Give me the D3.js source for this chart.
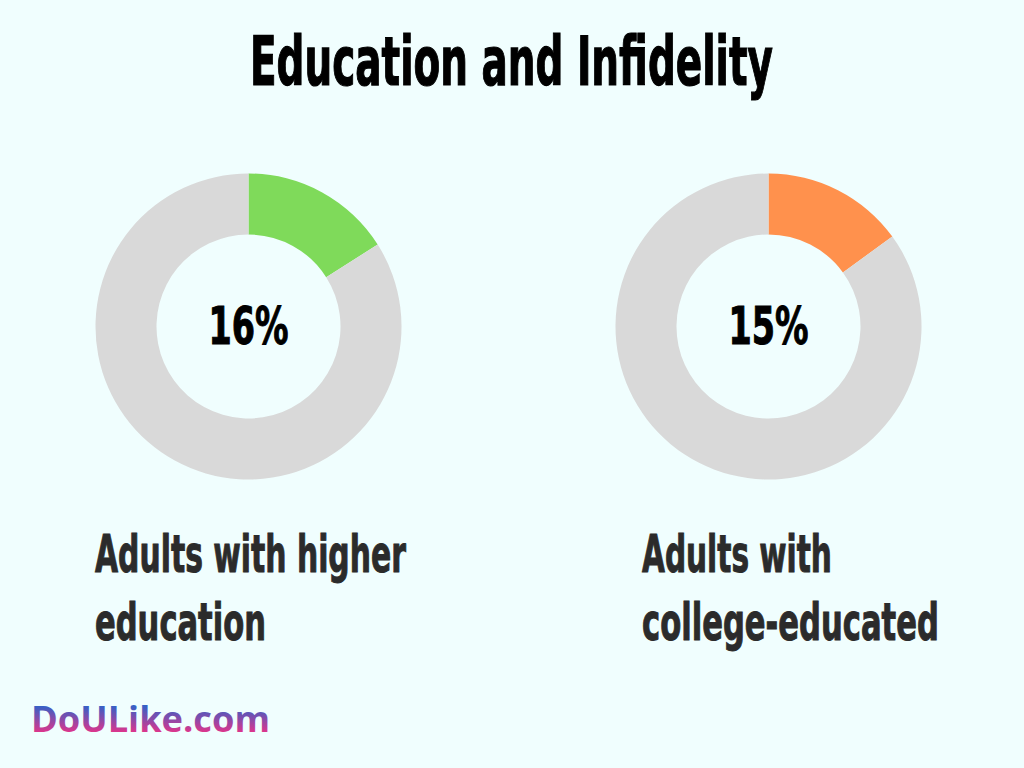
<!DOCTYPE html>
<html>
<head>
<meta charset="utf-8">
<script src="https://cdn.jsdelivr.net/npm/d3@7"></script>
<style>
  html, body { margin: 0; padding: 0; background: #f0fefe; }
  svg { display: block; }
  .heavy { font-family: "DejaVu Sans", sans-serif; font-weight: bold; font-stretch: condensed; }
</style>
</head>
<body>
<div class="chart"></div>
<script>
// chart data
var title = "Education and Infidelity";
var categories = [["Adults with higher", "education"], ["Adults with", "college-educated"]];
var values = [16, 15];
var colors = ["#7fda5a", "#ff914d"];
var restColor = "#d9d9d9";

var width = 1024, height = 768;

const svg = d3.select('.chart').append('svg')
    .attr('width', width).attr('height', height)
    .attr('viewBox', '0 0 ' + width + ' ' + height);

svg.append('rect').attr('width', width).attr('height', height).style('fill', '#f0fefe');

// squeeze a text horizontally so it spans the wanted width (the original face is very narrow)
function fitText(sel, x, y, w, anchor) {
    var natural = sel.node().getComputedTextLength();
    var k = w / natural;
    var x0 = anchor === 'middle' ? x : x;
    sel.attr('x', 0).attr('y', 0)
       .attr('transform', 'translate(' + x0 + ',' + y + ') scale(' + k + ',1)');
}

// title
var t = svg.append('text')
    .attr('class', 'heavy')
    .style('font-size', '68px')
    .style('fill', '#000')
    .style('stroke', '#000').style('stroke-width', 1.2)
    .text(title);
fitText(t, 250, 85, 523);

// donut centers, one per category
var cx = d3.scalePoint().domain(d3.range(values.length)).range([248.5, 768.5]);
var cy = 326.5;
var outerR = 153, innerR = 92;

var pie = d3.pie().sort(null).value(d => d);
var arc = d3.arc().innerRadius(innerR).outerRadius(outerR);

var labelWidths = [[311, 171], [190, 297]];
var labelX = [95, 642];

values.forEach(function (v, i) {
    var g = svg.append('g').attr('transform', 'translate(' + cx(i) + ',' + cy + ')');

    g.selectAll('path')
        .data(pie([v, 100 - v]))
        .join('path')
        .attr('d', arc)
        .style('fill', (d, j) => j === 0 ? colors[i] : restColor);

    var p = g.append('text')
        .attr('class', 'heavy')
        .attr('text-anchor', 'middle')
        .style('font-size', '52px')
        .style('fill', '#000')
        .style('stroke', '#000').style('stroke-width', 1)
        .text(v + '%');
    fitText(p, 0, 17, 80, 'middle');

    categories[i].forEach(function (line, k) {
        var l = svg.append('text')
            .attr('class', 'heavy')
            .style('font-size', '51px')
            .style('fill', '#2b2b2b')
            .style('stroke', '#2b2b2b').style('stroke-width', 1)
            .text(line);
        fitText(l, labelX[i], 572 + k * 68, labelWidths[i][k]);
    });
});

// watermark
var grad = svg.append('defs').append('linearGradient')
    .attr('id', 'wm').attr('gradientUnits', 'userSpaceOnUse')
    .attr('x1', 0).attr('y1', 706).attr('x2', 0).attr('y2', 733);
grad.append('stop').attr('offset', '0%').attr('stop-color', '#3560c6');
grad.append('stop').attr('offset', '100%').attr('stop-color', '#e3348a');

svg.append('text')
    .attr('x', 31).attr('y', 732)
    .attr('textLength', 239).attr('lengthAdjust', 'spacingAndGlyphs')
    .style('font-family', '"Open Sans", sans-serif')
    .style('font-weight', 'bold')
    .style('font-size', '35px')
    .style('fill', 'url(#wm)')
    .text('DoULike.com');
</script>
</body>
</html>
